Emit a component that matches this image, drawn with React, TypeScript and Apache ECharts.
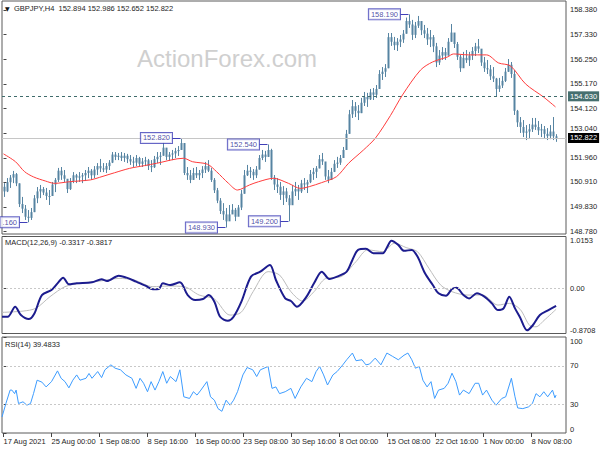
import React, { useEffect, useRef } from 'react';
import * as echarts from 'echarts';

// ---------- data ----------
const timeLabels = ['17 Aug 2021', '25 Aug 00:00', '1 Sep 08:00', '8 Sep 16:00', '16 Sep 00:00', '23 Sep 08:00', '30 Sep 16:00', '8 Oct 00:00', '15 Oct 08:00', '22 Oct 16:00', '1 Nov 00:00', '8 Nov 08:00'];
const timeTickIdx = [0, 16, 32, 48, 64, 80, 96, 112, 128, 144, 160, 176];
const priceTicks = [148.78, 149.83, 150.91, 151.96, 153.04, 154.12, 155.17, 156.25, 157.33, 158.38];
const macdTicks = [-0.8708, 0, 1.0153];
const rsiTicks = [0, 30, 70, 100];

const firstOpen = 150.7;
const highs = [
  150.86, 151.08, 151.21, 151.39, 151.30, 150.85, 150.26, 149.91, 149.69, 149.78,
  150.34, 150.69, 150.78, 150.69, 150.65, 150.56, 150.91, 151.08, 151.52, 151.56,
  151.43, 151.00, 151.08, 151.34, 151.26, 151.34, 151.30, 151.43, 151.56, 151.47,
  151.60, 151.73, 151.91, 151.73, 151.73, 151.86, 152.21, 152.21, 152.17, 152.21,
  152.17, 152.13, 152.08, 152.00, 152.08, 152.00, 151.95, 152.00, 151.91, 151.86,
  152.04, 152.21, 152.21, 152.65, 152.39, 152.21, 152.30, 152.39, 152.47, 152.82,
  152.60, 151.56, 151.43, 151.52, 151.56, 151.43, 151.60, 151.78, 151.86, 151.52,
  151.08, 150.65, 150.21, 149.99, 149.78, 149.91, 149.95, 149.78, 149.91, 150.56,
  151.43, 151.65, 151.56, 151.47, 151.60, 152.08, 152.30, 152.26, 152.54, 152.35,
  151.21, 151.08, 150.91, 150.73, 150.65, 150.34, 150.78, 150.91, 150.78, 151.00,
  151.08, 151.00, 151.43, 151.52, 151.60, 152.08, 152.17, 151.65, 151.43, 151.52,
  151.86, 152.00, 152.08, 152.43, 153.17, 154.04, 154.47, 154.38, 154.25, 154.56,
  154.82, 154.78, 154.95, 154.99, 155.12, 155.77, 155.90, 156.03, 157.38, 157.38,
  157.21, 157.16, 157.29, 157.51, 158.05, 158.19, 157.95, 157.86, 158.12, 157.86,
  157.73, 157.60, 157.51, 157.29, 156.95, 156.64, 156.77, 156.73, 157.16, 157.77,
  157.38, 156.99, 156.43, 156.56, 156.64, 156.56, 156.77, 156.95, 157.12, 156.64,
  156.34, 156.21, 155.99, 155.90, 155.43, 155.43, 155.51, 155.86, 156.25, 156.12,
  155.77, 154.04, 153.73, 153.60, 153.38, 153.43, 153.69, 153.69, 153.56, 153.43,
  153.34, 153.25, 153.38, 153.73, 152.986
];
const lows = [
  150.26, 150.47, 150.65, 150.86, 150.73, 149.82, 149.56, 149.26, 149.16, 149.26,
  149.60, 149.99, 150.21, 150.34, 150.13, 149.91, 150.30, 150.47, 150.91, 151.00,
  150.91, 150.43, 150.56, 150.86, 150.86, 150.91, 150.86, 150.95, 151.08, 151.00,
  151.08, 151.21, 151.34, 151.34, 151.30, 151.43, 151.73, 151.86, 151.86, 151.82,
  151.78, 151.73, 151.65, 151.56, 151.60, 151.56, 151.56, 151.60, 151.43, 151.34,
  151.52, 151.73, 151.65, 152.05, 151.86, 151.82, 151.86, 151.95, 152.04, 152.30,
  151.21, 151.00, 150.86, 151.00, 151.08, 151.00, 151.08, 151.30, 151.34, 150.91,
  150.43, 149.99, 149.52, 149.26, 148.93, 149.34, 149.52, 149.21, 149.43, 149.69,
  150.40, 151.17, 151.08, 151.00, 151.08, 151.45, 151.86, 151.78, 152.00, 151.00,
  150.56, 150.43, 150.13, 149.91, 150.04, 149.20, 149.91, 150.30, 150.13, 150.43,
  150.56, 150.43, 150.86, 151.00, 151.08, 151.50, 151.65, 151.00, 150.86, 151.00,
  151.34, 151.52, 151.65, 151.95, 152.30, 153.00, 153.69, 153.73, 153.60, 153.90,
  154.21, 154.17, 154.47, 154.47, 154.56, 154.95, 155.34, 155.47, 155.85, 156.82,
  156.64, 156.60, 156.77, 156.95, 157.35, 157.60, 157.08, 157.16, 157.60, 157.29,
  157.16, 156.86, 156.77, 156.55, 155.90, 155.99, 156.21, 156.21, 156.40, 157.00,
  156.73, 156.21, 155.69, 155.86, 156.08, 155.95, 156.21, 156.38, 156.51, 155.95,
  155.69, 155.60, 155.34, 155.25, 154.63, 154.82, 154.99, 155.25, 155.69, 155.43,
  153.82, 153.30, 153.04, 152.86, 152.73, 152.82, 153.08, 153.17, 152.95, 152.86,
  152.82, 152.73, 152.77, 152.73, 152.652
];
const closes = [
  150.50, 150.90, 151.10, 151.25, 150.85, 149.95, 149.75, 149.40, 149.35, 149.60,
  150.20, 150.50, 150.60, 150.45, 150.30, 150.30, 150.80, 151.00, 151.40, 151.20,
  151.05, 150.60, 150.95, 151.20, 151.10, 151.15, 151.20, 151.30, 151.40, 151.20,
  151.45, 151.60, 151.50, 151.45, 151.60, 151.75, 152.10, 152.00, 152.05, 151.95,
  152.05, 151.90, 151.80, 151.75, 151.95, 151.70, 151.80, 151.85, 151.60, 151.55,
  151.90, 152.00, 152.05, 152.40, 152.00, 152.10, 152.15, 152.25, 152.30, 152.60,
  151.30, 151.20, 151.00, 151.30, 151.20, 151.30, 151.45, 151.60, 151.40, 151.00,
  150.55, 150.10, 149.65, 149.50, 149.20, 149.50, 149.70, 149.40, 149.80, 150.40,
  151.20, 151.40, 151.35, 151.20, 151.45, 151.95, 152.10, 152.00, 152.30, 151.10,
  150.80, 150.70, 150.35, 150.50, 150.20, 149.90, 150.50, 150.60, 150.50, 150.85,
  150.80, 150.90, 151.25, 151.35, 151.50, 151.90, 151.80, 151.15, 151.00, 151.35,
  151.70, 151.75, 151.95, 152.30, 153.00, 153.85, 154.20, 154.00, 153.90, 154.35,
  154.60, 154.50, 154.80, 154.70, 154.95, 155.60, 155.70, 155.85, 157.20, 157.00,
  156.85, 157.00, 157.10, 157.35, 157.90, 157.75, 157.30, 157.70, 157.90, 157.50,
  157.35, 157.10, 157.20, 156.80, 156.10, 156.40, 156.55, 156.40, 157.00, 157.40,
  156.90, 156.35, 155.85, 156.30, 156.20, 156.40, 156.60, 156.80, 156.70, 156.10,
  155.85, 155.80, 155.50, 155.40, 154.95, 155.10, 155.30, 155.70, 156.00, 155.60,
  154.00, 153.50, 153.30, 153.05, 153.10, 153.20, 153.40, 153.30, 153.15, 153.20,
  153.00, 152.90, 153.10, 152.894, 152.822
];

const maIdx = [0, 4, 7, 10, 14, 17, 22, 29, 32, 37, 42, 47, 51, 60, 63, 68, 71, 75, 78, 82, 85, 90, 95, 99, 102, 106, 111, 115, 120, 124, 129, 133, 139, 143, 148, 150, 155, 161, 165, 169, 174, 180, 184];
const maVals = [152.13, 151.79, 151.36, 151.13, 150.95, 150.85, 150.92, 151.00, 151.11, 151.31, 151.50, 151.62, 151.72, 151.94, 151.79, 151.68, 151.36, 150.85, 150.56, 150.78, 150.92, 151.07, 150.85, 150.63, 150.71, 150.88, 151.14, 151.72, 152.30, 152.82, 153.80, 154.69, 155.77, 156.12, 156.34, 156.47, 156.43, 156.43, 156.08, 155.95, 155.17, 154.60, 154.17];

const macdIdx = [-0.5, 1.4, 3.9, 5.8, 8.4, 10.3, 12.8, 16, 18, 19.9, 21.8, 24.4, 29.5, 32.7, 34.5, 38.4, 41, 44.2, 47.3, 49.8, 51.8, 53.1, 55.6, 58.8, 61.4, 63.9, 66.5, 68.4, 70.3, 72.2, 74.8, 76.7, 79.3, 82.5, 85.6, 88.8, 90.8, 93.9, 95.8, 97.8, 101, 103.5, 106.1, 108.6, 111.2, 114.4, 116.3, 118.2, 120.8, 123.3, 126.5, 127.8, 129.3, 131.6, 133.5, 136.1, 138, 140.5, 143.1, 145, 147.5, 149.5, 151, 153.3, 155.2, 157.8, 160.3, 162.8, 164.8, 166.7, 168.6, 170.5, 172.2, 174.5, 176.3, 178.8, 181.5, 184.2];
const macdVals = [-0.546, -0.546, -0.35, -0.513, -0.591, -0.48, -0.123, -0.025, 0.105, 0.215, 0.085, 0.105, 0.124, 0.183, 0.15, 0.254, 0.215, 0.137, 0.059, -0.012, -0.006, 0.105, 0.072, 0.124, -0.123, -0.22, -0.2, -0.123, -0.253, -0.546, -0.624, -0.546, -0.253, 0.235, 0.332, 0.462, 0.17, -0.188, -0.24, -0.35, -0.155, 0.105, 0.332, 0.189, 0.235, 0.332, 0.56, 0.755, 0.775, 0.69, 0.69, 0.801, 0.931, 0.853, 0.736, 0.755, 0.625, 0.30, 0.072, -0.09, -0.136, -0.006, 0.02, -0.123, -0.188, -0.09, -0.155, -0.285, -0.415, -0.383, -0.155, -0.383, -0.56, -0.81, -0.72, -0.51, -0.42, -0.332];

const sigIdx = [-0.5, 6.5, 10.8, 15.5, 20.5, 25.5, 32.2, 38.5, 43.5, 49.8, 55, 60.2, 65.2, 70.3, 75.5, 79.2, 83.2, 88.2, 92, 95.8, 99.7, 103.5, 107.4, 112.5, 117.5, 121.4, 126.5, 130.3, 134.2, 138, 141.8, 145.7, 149.5, 154.5, 159.7, 164.8, 168.6, 172.2, 175.5, 177.5, 180.1, 184.2];
const sigVals = [-0.46, -0.435, -0.38, -0.155, 0.04, 0.105, 0.15, 0.2, 0.17, 0.04, 0.052, 0.04, -0.123, -0.2, -0.513, -0.46, -0.058, 0.332, 0.267, -0.058, -0.24, -0.058, 0.2, 0.235, 0.527, 0.755, 0.72, 0.885, 0.80, 0.72, 0.397, 0.072, -0.058, -0.123, -0.123, -0.318, -0.285, -0.40, -0.72, -0.74, -0.62, -0.40];

const rsiIdx = [-0.5, 0.8, 2.2, 2.8, 3.7, 4.2, 5, 6.5, 7.8, 9, 10, 11.2, 12.8, 14.2, 16, 18, 19.2, 20.5, 21.8, 23.1, 24.4, 25.5, 27.5, 28.5, 29.5, 31.4, 32.7, 33.8, 35.8, 37.2, 39, 40.8, 42.8, 44.2, 45.5, 46.7, 48, 49.2, 50.5, 51.8, 53.1, 54.4, 55.6, 57.5, 58.8, 60.1, 62, 63.3, 64.5, 65.8, 67.8, 69, 70.3, 71.5, 72.8, 74.2, 75.5, 76.7, 78, 79.8, 81.2, 83.1, 84.4, 85.6, 88.2, 89.5, 90.8, 92, 93.9, 95.8, 97.2, 99.1, 101, 102.8, 104.2, 105.4, 106.7, 108, 109.8, 111.2, 113.1, 114.4, 116.3, 117.5, 119.5, 120.8, 122, 123.9, 125.8, 127.8, 129.7, 131.6, 133.5, 134.8, 136.1, 137.3, 138.6, 139.8, 141.2, 142.5, 143.7, 145, 146.9, 148.2, 149.5, 150.8, 152, 153.3, 155.2, 157.2, 158.4, 159.7, 161, 162.8, 164.2, 166.1, 167.4, 169.3, 170.5, 171.4, 173.1, 175, 176.3, 177.5, 178.8, 180.1, 181.4, 183, 183.8, 184.2];
const rsiVals = [16.7, 30.7, 44.7, 44.7, 41, 44.7, 30.7, 32.5, 29, 30.7, 41, 55, 53, 48, 53.5, 64.7, 57, 53.5, 47, 55, 60.5, 55, 57, 62, 57, 64, 57.7, 65.8, 71, 67.5, 65.8, 60.5, 57, 46.5, 57, 51.8, 43, 53.5, 44.7, 53.5, 64, 51.8, 58.8, 53.5, 65.8, 37.7, 36, 43, 39.5, 44.7, 53.5, 37.7, 34.2, 25.4, 22.6, 34.2, 29, 34.2, 43, 60.5, 68.2, 65.8, 58.8, 65.8, 69.3, 46.5, 48, 41, 43, 46.5, 36, 48, 57, 53.5, 64, 69.3, 60.5, 50, 60.5, 64, 71, 76.3, 83.3, 75.3, 76.3, 71, 71.8, 78, 71, 83.3, 79.8, 76.3, 81, 83.3, 76.3, 67.5, 69.3, 55, 48, 53.5, 36, 44.7, 46.5, 51.8, 62.3, 53.5, 39.5, 44.7, 41, 51.8, 51.8, 39.5, 44.7, 34.2, 29, 36, 37.7, 57, 37.7, 26.1, 25.4, 27.2, 30.7, 41, 37.7, 43, 37.7, 44.7, 36.7, 39.5];

const annBars = [8, 59, 74, 88, 95, 135];
const annPrices = [149.16, 152.82, 148.93, 152.54, 149.20, 158.19];
const annTexts = ['.160', '152.820', '148.930', '152.540', '149.200', '158.190'];

const levelPrice = 154.63;
const lastPrice = 152.822;

const headerText = 'GBPJPY,H4  152.894 152.986 152.652 152.822';
const macdText = 'MACD(12,26,9) -0.3317 -0.3817';
const rsiText = 'RSI(14) 39.4833';

// ---------- styling ----------
const FONT = "'Liberation Sans', Arial, sans-serif";
const BAR = '#5684a2';
const FRAME = '#5a5a5a';
const TXT = '#1e1e1e';

export default function App() {
  const ref = useRef<HTMLDivElement>(null);

  useEffect(() => {
    if (!ref.current) return;
    const chart = echarts.init(ref.current, null, { renderer: 'svg' });

    const candleData = highs.map((h, i) => [i, i === 0 ? firstOpen : closes[i - 1], closes[i], lows[i], h]);
    const pairs = (xs: number[], ys: number[]) => xs.map((x, k) => [x, ys[k]]);

    const gridBase = { left: 2, right: 34, show: true, borderColor: FRAME, borderWidth: 1, backgroundColor: 'transparent', outerBoundsMode: 'none' } as any;

    const xBase = (k: number) => ({
      type: 'value', gridIndex: k, min: -0.5, max: 187.5,
      axisLine: { show: false }, splitLine: { show: false },
      axisTick: { show: false }, axisLabel: { show: false },
    });

    const yLabel = { fontSize: 7.5, color: TXT, fontFamily: FONT, margin: 4 };
    const richUpDown = (pad: number) => ({
      t: { padding: [pad, 0, 0, 0], fontSize: 7.5, color: TXT, fontFamily: FONT },
      b: { padding: [0, 0, pad, 0], fontSize: 7.5, color: TXT, fontFamily: FONT },
    });

    const option: any = {
      animation: false,
      backgroundColor: '#ffffff',
      grid: [
        { ...gridBase, top: 1, height: 233 },
        { ...gridBase, top: 236.5, height: 97 },
        { ...gridBase, top: 337, height: 96 },
      ],
      xAxis: [
        xBase(0),
        xBase(1),
        {
          ...xBase(2),
          axisTick: { show: true, customValues: timeTickIdx, length: 4, lineStyle: { color: '#444' } },
          axisLabel: {
            show: true, customValues: timeTickIdx,
            formatter: (v: number) => timeLabels[timeTickIdx.indexOf(Math.round(v))] ?? '',
            align: 'left', margin: 4, fontSize: 7.5, color: TXT, fontFamily: FONT,
          },
        },
      ],
      yAxis: [
        {
          type: 'value', gridIndex: 0, position: 'right', min: 148.65, max: 158.77,
          axisLine: { show: false }, splitLine: { show: false },
          axisTick: { show: true, customValues: priceTicks, length: 3, lineStyle: { color: '#444' } },
          axisLabel: {
            ...yLabel, customValues: priceTicks,
            // the label nearest the last-price box is lifted a little so that the two do not collide
            formatter: (v: number) => (Math.abs(v - lastPrice) < 0.3 ? '{b|' + v.toFixed(3) + '}' : v.toFixed(3)),
            rich: richUpDown(9),
          },
        },
        {
          type: 'value', gridIndex: 1, position: 'right', min: -0.8708, max: 1.0153,
          axisLine: { show: false }, splitLine: { show: false },
          axisTick: { show: true, customValues: macdTicks, length: 3, lineStyle: { color: '#444' } },
          axisLabel: {
            ...yLabel, customValues: macdTicks,
            formatter: (v: number) => (Math.abs(v) < 1e-9 ? '0.00' : v > 0 ? '{t|' + v.toFixed(4) + '}' : '{b|' + v.toFixed(4) + '}'),
            rich: richUpDown(7),
          },
        },
        {
          type: 'value', gridIndex: 2, position: 'right', min: 0, max: 100,
          axisLine: { show: false }, splitLine: { show: false },
          axisTick: { show: true, customValues: rsiTicks, length: 3, lineStyle: { color: '#444' } },
          axisLabel: {
            ...yLabel, customValues: rsiTicks,
            formatter: (v: number) => (v === 100 ? '{t|100}' : v === 0 ? '{b|0}' : String(v)),
            rich: richUpDown(8),
          },
        },
      ],
      graphic: [
        { type: 'text', x: 137, y: 58, z: 0, silent: true, style: { text: 'ActionForex.com', fontSize: 24, fill: '#cfcfcf', fontFamily: FONT, verticalAlign: 'middle' } },
        { type: 'text', x: 5, y: 8, z: 10, silent: true, style: { text: '\u25BC', fontSize: 6, fill: '#111', fontFamily: "'DejaVu Sans', sans-serif", verticalAlign: 'middle' } },
        { type: 'text', x: 14, y: 8, z: 10, silent: true, style: { text: headerText, fontSize: 7.5, fill: TXT, fontFamily: FONT, verticalAlign: 'middle' } },
        { type: 'text', x: 5, y: 242, z: 10, silent: true, style: { text: macdText, fontSize: 7.5, fill: TXT, fontFamily: FONT, verticalAlign: 'middle' } },
        { type: 'text', x: 5, y: 344, z: 10, silent: true, style: { text: rsiText, fontSize: 7.5, fill: TXT, fontFamily: FONT, verticalAlign: 'middle' } },
      ],
      series: [
        {
          name: 'levels', type: 'line', xAxisIndex: 0, yAxisIndex: 0, data: [], z: 1,
          markLine: {
            silent: true, symbol: 'none', animation: false,
            data: [
              {
                yAxis: levelPrice, lineStyle: { type: [3, 3], color: '#3f6b6b', width: 1 },
                label: { show: true, position: 'end', distance: 2, formatter: levelPrice.toFixed(3), backgroundColor: '#466f6f', color: '#ffffff', fontSize: 7.5, fontFamily: FONT, padding: [1, 2, 1, 2] },
              },
              {
                yAxis: lastPrice, lineStyle: { type: 'solid', color: '#c6c6c6', width: 1 },
                label: { show: true, position: 'end', distance: 2, formatter: lastPrice.toFixed(3), backgroundColor: '#000000', color: '#ffffff', fontSize: 7.5, fontFamily: FONT, padding: [1, 2, 1, 2] },
              },
            ],
          },
        },
        {
          name: 'price', type: 'custom', xAxisIndex: 0, yAxisIndex: 0, z: 2, clip: true,
          data: candleData,
          encode: { x: 0, y: [1, 2, 3, 4] },
          renderItem: (params: any, api: any) => {
            const i = api.value(0);
            const o = api.value(1), c = api.value(2), l = api.value(3), h = api.value(4);
            const pL = api.coord([i, l]);
            const pH = api.coord([i, h]);
            const pO = api.coord([i, o]);
            const pC = api.coord([i, c]);
            const x = Math.round(pL[0]) + 0.5;
            const top = Math.min(pO[1], pC[1]);
            const hh = Math.max(1, Math.abs(pO[1] - pC[1]));
            return {
              type: 'group',
              children: [
                { type: 'line', shape: { x1: x, y1: pL[1], x2: x, y2: pH[1] }, style: { stroke: BAR, lineWidth: 1 } },
                { type: 'rect', shape: { x: x - 1, y: top, width: 2, height: hh }, style: { fill: BAR } },
              ],
            };
          },
        },
        {
          name: 'MA', type: 'line', xAxisIndex: 0, yAxisIndex: 0, z: 3,
          data: pairs(maIdx, maVals), showSymbol: false, smooth: 0.3,
          lineStyle: { color: '#ff3c3c', width: 1 },
        },
        {
          name: 'annotations', type: 'scatter', xAxisIndex: 0, yAxisIndex: 0, z: 5,
          data: annBars.map((b, k) => ({ value: [b, annPrices[k]], name: annTexts[k] })),
          symbolSize: 1, itemStyle: { color: 'rgba(0,0,0,0)' },
          label: {
            show: true, position: 'left', distance: 8, formatter: (p: any) => p.name,
            fontSize: 7.5, fontFamily: FONT, color: '#23238f', backgroundColor: '#ffffff',
            borderColor: '#4040b8', borderWidth: 1, padding: [1, 2, 1, 2], lineHeight: 8,
          },
          markLine: {
            silent: true, symbol: 'none', animation: false,
            lineStyle: { color: '#4040b8', width: 1, type: 'solid' }, label: { show: false },
            data: annBars.map((b, k) => [{ coord: [b - 8 / 3, annPrices[k]] }, { coord: [b, annPrices[k]] }]),
          },
        },
        {
          name: 'Signal', type: 'line', xAxisIndex: 1, yAxisIndex: 1, z: 2,
          data: pairs(sigIdx, sigVals), showSymbol: false, smooth: 0.3,
          lineStyle: { color: '#bdbdbd', width: 1 },
          markLine: {
            silent: true, symbol: 'none', animation: false, label: { show: false },
            lineStyle: { color: '#c8c8c8', type: [2, 2], width: 1 },
            data: [{ yAxis: 0 }],
          },
        },
        {
          name: 'MACD', type: 'line', xAxisIndex: 1, yAxisIndex: 1, z: 3,
          data: pairs(macdIdx, macdVals), showSymbol: false, smooth: 0.3,
          lineStyle: { color: '#1c1c8e', width: 2 },
        },
        {
          name: 'RSI', type: 'line', xAxisIndex: 2, yAxisIndex: 2, z: 3,
          data: pairs(rsiIdx, rsiVals), showSymbol: false,
          lineStyle: { color: '#3d9cff', width: 1 },
          markLine: {
            silent: true, symbol: 'none', animation: false, label: { show: false },
            lineStyle: { color: '#c8c8c8', type: [2, 2], width: 1 },
            data: [{ yAxis: 70 }, { yAxis: 30 }],
          },
        },
      ],
    };

    chart.setOption(option);
    return () => chart.dispose();
  }, []);

  return (
    <div
      ref={ref}
      style={{ position: 'fixed', left: 0, top: 0, width: 600, height: 450, background: '#ffffff' }}
    />
  );
}
